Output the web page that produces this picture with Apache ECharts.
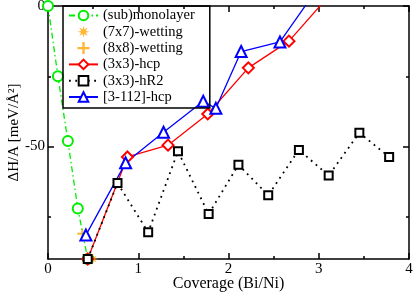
<!DOCTYPE html>
<html>
<head>
<meta charset="utf-8">
<script src="https://cdn.jsdelivr.net/npm/echarts@6/dist/echarts.min.js"></script>
<style>html,body{margin:0;padding:0;background:#fff;}#c{width:415px;height:294px;}</style>
</head>
<body>
<div id="c"></div>
<script>
const xTicks = [0, 1, 2, 3, 4];
const yTickLabels = [-50, 0];
const yMinorTicks = [-75, -25];

const monoX = [0, 0.11, 0.22, 0.33, 0.44];
const monoY = [0, -25, -48, -72, -90];

const wet7X = [0.50];
const wet7Y = [-90];

const wet8X = [0.38];
const wet8Y = [-81];

const hcpX = [0.44, 0.88, 1.33, 1.77, 2.22, 2.67, 3.11];
const hcpY = [-90, -53.7, -49.5, -38.4, -22, -12.5, 3.5];

const hr2X = [0.44, 0.77, 1.11, 1.44, 1.78, 2.11, 2.44, 2.78, 3.11, 3.45, 3.78];
const hr2Y = [-90, -63, -80.5, -51.7, -74, -56.5, -67.3, -51.2, -60.3, -45.1, -53.7];

const triX = [0.42, 0.86, 1.28, 1.72, 1.86, 2.14, 2.57, 3.0];
const triY = [-81.5, -55.8, -44.9, -33.9, -36.4, -16.2, -12.8, 6.9];

const names = ['(sub)monolayer', '(7x7)-wetting', '(8x8)-wetting', '(3x3)-hcp', '(3x3)-hR2', '[3-112]-hcp'];

function zip(xs, ys) { return xs.map((x, i) => [x, ys[i]]); }

// star symbol shape
let starPts = [];
for (let i = 0; i < 16; i++) {
  const a = Math.PI * i / 8;
  const r = i % 2 === 0 ? 10 : 4;
  starPts.push((10 + r * Math.sin(a)).toFixed(2) + ',' + (10 - r * Math.cos(a)).toFixed(2));
}
const starPath = 'path://M' + starPts.join('L') + 'Z';
const plusPath = 'path://M4,0H6V4H10V6H6V10H4V6H0V4H4Z';

const FONT = 'Liberation Serif';
const tickStyle = { color: '#000', width: 1.5 };
const lineOn = { show: true, onZero: false, lineStyle: { color: '#000', width: 1.5 } };
const lineOff = { show: false, onZero: false };

const chart = echarts.init(document.getElementById('c'), null, { renderer: 'canvas' });
chart.setOption({
  animation: false,
  backgroundColor: '#fff',
  grid: { left: 48, right: 6, top: 6, bottom: 35, containLabel: false, outerBoundsMode: 'none' },
  xAxis: [
    {
      type: 'value', position: 'bottom', min: 0, max: 4, interval: 1,
      axisLine: lineOn, splitLine: { show: false },
      name: 'Coverage (Bi/Ni)', nameLocation: 'middle', nameGap: 17, nameMoveOverlap: false,
      nameTextStyle: { fontFamily: FONT, fontSize: 16, color: '#000' },
      axisTick: { show: true, inside: true, length: 6, lineStyle: tickStyle },
      minorTick: { show: true, splitNumber: 2, length: 3, lineStyle: tickStyle },
      axisLabel: { fontFamily: FONT, fontSize: 15, color: '#000', margin: 3 }
    },
    {
      type: 'value', position: 'top', min: 0, max: 4, interval: 1,
      axisLine: lineOn, splitLine: { show: false },
      axisTick: { show: true, inside: true, length: 6, lineStyle: tickStyle },
      minorTick: { show: true, splitNumber: 2, length: 3, lineStyle: tickStyle },
      axisLabel: { show: false }
    }
  ],
  yAxis: [
    {
      type: 'value', position: 'left', min: -90, max: 0,
      axisLine: lineOn, splitLine: { show: false },
      name: 'ΔH/A [meV/Å²]', nameLocation: 'middle', nameGap: 26, nameMoveOverlap: false,
      nameTextStyle: { fontFamily: FONT, fontSize: 15, color: '#000' },
      axisTick: { show: true, inside: true, length: 6, customValues: yTickLabels, lineStyle: tickStyle },
      axisLabel: { fontFamily: FONT, fontSize: 15, color: '#000', margin: 3, customValues: yTickLabels }
    },
    {
      type: 'value', position: 'left', min: -90, max: 0,
      axisLine: lineOff, splitLine: { show: false },
      axisTick: { show: true, inside: true, length: 3, customValues: yMinorTicks, lineStyle: tickStyle },
      axisLabel: { show: false }
    },
    {
      type: 'value', position: 'right', min: -90, max: 0,
      axisLine: lineOn, splitLine: { show: false },
      axisTick: { show: true, inside: true, length: 6, customValues: yTickLabels, lineStyle: tickStyle },
      axisLabel: { show: false }
    },
    {
      type: 'value', position: 'right', min: -90, max: 0,
      axisLine: lineOff, splitLine: { show: false },
      axisTick: { show: true, inside: true, length: 3, customValues: yMinorTicks, lineStyle: tickStyle },
      axisLabel: { show: false }
    }
  ],
  legend: {
    orient: 'vertical', left: 63, top: 6,
    data: names,
    backgroundColor: 'transparent', borderColor: '#000', borderWidth: 1.5,
    padding: [2, 15, 3.5, 5],
    itemWidth: 29, itemHeight: 12, itemGap: 1.3,
    textStyle: { fontFamily: FONT, fontSize: 14.5, color: '#000', lineHeight: 15 },
    selectedMode: false
  },
  series: [
    {
      name: names[0], type: 'line', data: zip(monoX, monoY),
      symbol: 'emptyCircle', symbolSize: 10, clip: false,
      itemStyle: { color: '#00ee00', borderWidth: 1.5 },
      lineStyle: { color: '#00ee00', width: 1.3, type: [6, 3, 1.5, 3] }
    },
    {
      name: names[1], type: 'scatter', data: zip(wet7X, wet7Y),
      symbol: starPath, symbolSize: 10,
      itemStyle: { color: '#ffa500' }
    },
    {
      name: names[2], type: 'scatter', data: zip(wet8X, wet8Y),
      symbol: plusPath, symbolSize: 10,
      itemStyle: { color: '#ffa500' }
    },
    {
      name: names[3], type: 'line', data: zip(hcpX, hcpY),
      symbol: 'emptyDiamond', symbolSize: 11,
      itemStyle: { color: '#ff0000', borderWidth: 1.3 },
      lineStyle: { color: '#ff0000', width: 1.3 }
    },
    {
      name: names[4], type: 'line', data: zip(hr2X, hr2Y),
      symbol: 'emptyRect', symbolSize: 8,
      itemStyle: { color: '#000', borderWidth: 1.5 },
      lineStyle: { color: '#000', width: 1.8, type: [1.8, 4.5] }
    },
    {
      name: names[5], type: 'line', data: zip(triX, triY),
      symbol: 'emptyTriangle', symbolSize: 11,
      itemStyle: { color: '#0000ff', borderWidth: 1.3 },
      lineStyle: { color: '#0000ff', width: 1.3 }
    }
  ]
});
</script>
</body>
</html>
